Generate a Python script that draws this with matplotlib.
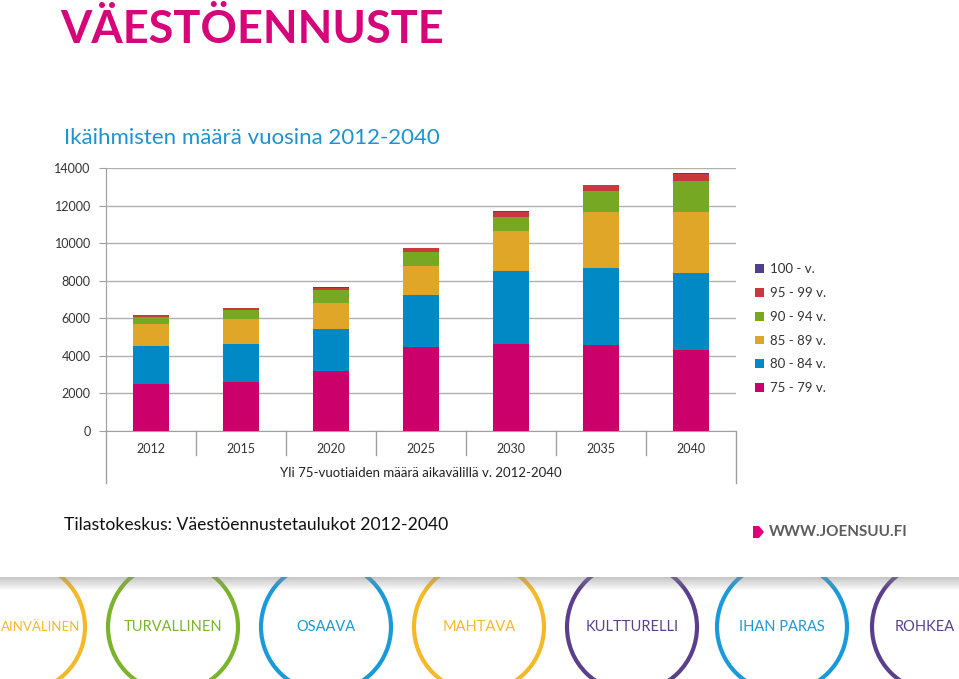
import numpy as np
import matplotlib.pyplot as plt
from matplotlib.patches import Circle, Polygon, Patch

# ---- data ----
years = ['2012', '2015', '2020', '2025', '2030', '2035', '2040']
age_groups = ['75 - 79 v.', '80 - 84 v.', '85 - 89 v.', '90 - 94 v.', '95 - 99 v.', '100 - v.']
age_75_79 = [2500, 2610, 3220, 4450, 4640, 4560, 4310]
age_80_84 = [2020, 2030, 2190, 2790, 3900, 4140, 4110]
age_85_89 = [1190, 1330, 1420, 1560, 2080, 2960, 3220]
age_90_94 = [370, 480, 660, 710, 780, 1100, 1650]
age_95_99 = [75, 90, 140, 210, 270, 320, 410]
age_100 = [10, 10, 15, 20, 25, 30, 40]
y_ticks = [0, 2000, 4000, 6000, 8000, 10000, 12000, 14000]

colors = ['#cc006b', '#0089c4', '#e0a628', '#76a823', '#c9383a', '#4f3f8c']
# words as far as they show in the banner strip
banner_words = ['AINVÄLINEN', 'TURVALLINEN', 'OSAAVA', 'MAHTAVA',
                'KULTTURELLI', 'IHAN PARAS', 'ROHKEA']
banner_colors = ['#f4b928', '#7ab42c', '#1a9ad8', '#f4b928',
                 '#5a3f8d', '#1a9ad8', '#5a3f8d']

W, H = 959, 679
fig = plt.figure(figsize=(W / 100, H / 100), dpi=100)
fig.patch.set_facecolor('white')

def fx(px):
    return px / W

def fy(py):
    return 1 - py / H

# ---- main chart ----
ax_l, ax_r, ax_t, ax_b = 106, 736, 168, 431
ax = fig.add_axes([fx(ax_l), fy(ax_b), fx(ax_r - ax_l), (ax_b - ax_t) / H])
x = np.arange(len(years))
series = [age_75_79, age_80_84, age_85_89, age_90_94, age_95_99, age_100]
bottom = np.zeros(len(years))
for vals, c in zip(series, colors):
    ax.bar(x, vals, width=0.4, bottom=bottom, color=c, zorder=3)
    bottom += np.array(vals)

ax.set_xlim(-0.5, len(years) - 0.5)
ax.set_ylim(0, 14000)
ax.set_yticks(y_ticks)
ax.set_yticklabels([str(v) for v in y_ticks], fontsize=9, color='#333333', family='Lato')
ax.tick_params(axis='y', length=5, color='#a0a0a0', pad=6)
ax.set_xticks([])
ax.grid(axis='y', color='#b0b0b0', linewidth=1, zorder=0)
for s in ['top', 'right']:
    ax.spines[s].set_visible(False)
ax.spines['left'].set_color('#a0a0a0')
ax.spines['bottom'].set_color('#a0a0a0')

# multi-level category axis (Excel style)
trans = ax.get_xaxis_transform()
px_unit = 1.0 / (ax_b - ax_t)
for i in range(1, len(years)):
    ax.plot([i - 0.5, i - 0.5], [0, -24 * px_unit], color='#a0a0a0', lw=1,
            transform=trans, clip_on=False)
for xe in [-0.5, len(years) - 0.5]:
    ax.plot([xe, xe], [0, -52 * px_unit], color='#a0a0a0', lw=1,
            transform=trans, clip_on=False)
for i, yr in enumerate(years):
    ax.text(i, -18 * px_unit, yr, transform=trans, ha='center', va='center',
            fontsize=9, color='#333333', family='Lato')
ax.text(3, -42 * px_unit, 'Yli 75-vuotiaiden määrä aikavälillä v. 2012-2040',
        transform=trans, ha='center', va='center', fontsize=9.5,
        color='#222222', family='Lato')

# legend, top entry = last series
handles = [Patch(facecolor=c) for c in colors][::-1]
fig.legend(handles, age_groups[::-1], loc='upper left',
           bbox_to_anchor=(fx(755), fy(263)), frameon=False,
           prop={'family': 'Lato', 'size': 9.5}, labelcolor='#333333',
           handlelength=0.65, handleheight=0.65, handletextpad=0.5,
           labelspacing=0.9, borderpad=0, borderaxespad=0)

# ---- titles and texts ----
fig.text(fx(60), fy(30), 'VÄESTÖENNUSTE', fontsize=32.5, fontweight='bold',
         color='#d6067a', family='Lato', va='center', ha='left')
fig.text(fx(64), fy(138), 'Ikäihmisten määrä vuosina 2012-2040', fontsize=16,
         color='#1f93cf', family='Lato', va='center', ha='left')
fig.text(fx(64), fy(525), 'Tilastokeskus: Väestöennustetaulukot 2012-2040',
         fontsize=12.6, color='#111111', family='Lato', va='center', ha='left')

# logo
fig.text(fx(769), fy(532), 'WWW.JOENSUU.FI', fontsize=11, fontweight='bold',
         color='#5c5c5c', family='Lato', va='center', ha='left')
logo = Polygon([[fx(753), fy(526)], [fx(759), fy(526)], [fx(764), fy(532)],
                [fx(759), fy(538)], [fx(753), fy(538)]], closed=True,
               transform=fig.transFigure, facecolor='#e0007a', edgecolor='none')
fig.add_artist(logo)

# ---- bottom banner ----
bt = 577
axb = fig.add_axes([0, 0, 1, (H - bt) / H])
axb.set_xlim(0, W)
axb.set_ylim(H, bt)
axb.axis('off')
centers = [20, 173, 326, 479, 632, 782, 937]
for cx, word, c in zip(centers, banner_words, banner_colors):
    axb.add_patch(Circle((cx, 627), 65, fill=False, edgecolor=c, lw=3))
    if cx < 50:
        axb.text(1, 627, word, ha='left', va='center', fontsize=9.5,
                 color=c, family='Lato')
    elif cx > 900:
        axb.text(955, 627, word, ha='right', va='center', fontsize=10.5,
                 color=c, family='Lato')
    else:
        axb.text(cx, 627, word, ha='center', va='center', fontsize=10.5,
                 color=c, family='Lato')
# shadow along the top of the banner
grad = np.ones((20, 2, 4))
grad[..., :3] = 0.55
grad[..., 3] = np.linspace(0.5, 0, 20)[:, None]
axb.imshow(grad, extent=[0, W, bt + 14, bt], aspect='auto', zorder=5)

fig.savefig('out.png', dpi=100)
